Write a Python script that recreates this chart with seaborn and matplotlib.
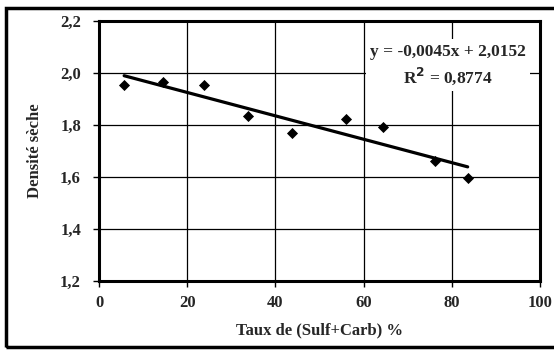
import matplotlib
matplotlib.use("Agg")
import matplotlib.pyplot as plt
import seaborn as sns
import numpy as np
import pandas as pd
from matplotlib.patches import Rectangle
from matplotlib.ticker import FuncFormatter

sns.set_style("white")
plt.rcParams['font.family'] = ['Liberation Serif', 'DejaVu Serif']
plt.rcParams['font.weight'] = 'bold'

taux = [5.7, 14.6, 23.8, 33.8, 43.7, 55.9, 64.3, 76.2, 83.6]
densite = [1.954, 1.964, 1.954, 1.836, 1.768, 1.822, 1.794, 1.660, 1.598]
slope = -0.0045
intercept = 2.0152
r2 = 0.8774
x_ticks = [0, 20, 40, 60, 80, 100]
y_ticks = [1.2, 1.4, 1.6, 1.8, 2.0, 2.2]

df = pd.DataFrame({"x": taux, "y": densite})
xt = np.array([min(taux), max(taux)])
trend = pd.DataFrame({"x": xt, "y": slope * xt + intercept})

fig = plt.figure(figsize=(5.54, 3.5), dpi=100)
ax = fig.add_axes([99/554, 1-281/350, (540-99)/554, (281-21)/350])

ax.set_xlim(0, 100)
ax.set_ylim(1.2, 2.2)
ax.set_xticks(x_ticks)
ax.set_yticks(y_ticks)
ax.grid(True, color='black', linewidth=0.9)
ax.set_axisbelow(True)

sns.lineplot(data=trend, x="x", y="y", ax=ax, color='black', linewidth=2.3, zorder=3)
sns.scatterplot(data=df, x="x", y="y", ax=ax, marker='D', s=32, color='black',
                edgecolor='black', linewidth=0, zorder=4)

ax.xaxis.set_major_formatter(FuncFormatter(lambda v, p: f"{v:.0f}"))
ax.yaxis.set_major_formatter(FuncFormatter(lambda v, p: f"{v:.1f}".replace('.', ',')))
ax.tick_params(axis='x', direction='out', length=4, width=1, color='black',
               labelsize=12, pad=6, bottom=True)
ax.tick_params(axis='y', direction='out', length=4, width=1, color='black',
               labelsize=12, pad=9, left=True)
for lbl in ax.get_xticklabels() + ax.get_yticklabels():
    lbl.set_fontweight('bold')

for s in ax.spines.values():
    s.set_color('black')
    s.set_linewidth(2.2)
    s.set_visible(True)

ax.set_xlabel("Taux de (Sulf+Carb) %", fontsize=12, fontweight='bold', labelpad=8)
ax.set_ylabel("Densité sèche", fontsize=12, fontweight='bold', labelpad=12)

eq = f"y = {slope:.4f}x + {intercept:.4f}".replace('.', ',')
r2txt = f"R$^2$ = {r2:.4f}".replace('.', ',')
ax.text(0.792, 0.83, eq + "\n" + r2txt, transform=ax.transAxes, ha='center', va='center',
        fontsize=12.5, fontweight='bold', linespacing=1.35, zorder=5,
        bbox=dict(facecolor='white', edgecolor='none', pad=3))

fig.patches.append(Rectangle((6/554, 3/350), 560/554, (347-8)/350, transform=fig.transFigure,
                             fill=False, edgecolor='black', linewidth=2.5, clip_on=False))

fig.savefig("out.png", dpi=100, facecolor='white')
